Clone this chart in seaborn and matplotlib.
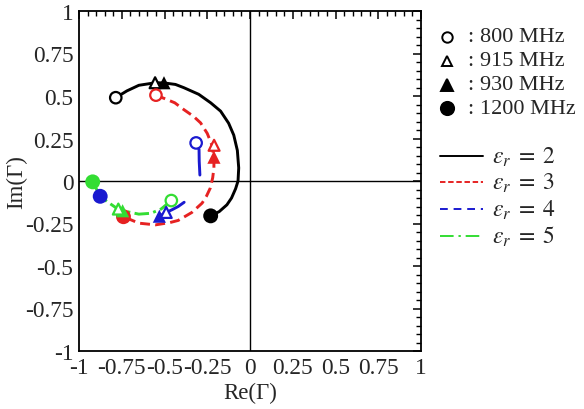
import numpy as np
import pandas as pd
import matplotlib
matplotlib.use("Agg")
import matplotlib.pyplot as plt
import seaborn as sns
from matplotlib.lines import Line2D
from matplotlib.ticker import MultipleLocator

# ---- reflection-coefficient trajectories (Re, Im) for each permittivity ----
er_levels = ["2", "3", "4", "5"]

black_re = [-0.785, -0.72, -0.65, -0.553, -0.504, -0.436, -0.387, -0.30, -0.23, -0.172,
            -0.125, -0.095, -0.074, -0.066, -0.070, -0.084, -0.108, -0.135, -0.18, -0.23]
black_im = [0.49, 0.53, 0.563, 0.578, 0.577, 0.568, 0.549, 0.51, 0.46, 0.411,
            0.34, 0.27, 0.18, 0.077, 0.0, -0.045, -0.10, -0.14, -0.18, -0.205]

red_re = [-0.55, -0.50, -0.44, -0.387, -0.33, -0.289, -0.25, -0.222, -0.211, -0.211,
          -0.218, -0.232, -0.255, -0.28, -0.34, -0.42, -0.47, -0.553, -0.65, -0.74]
red_im = [0.505, 0.485, 0.46, 0.42, 0.38, 0.342, 0.28, 0.21, 0.14, 0.077,
          0.02, -0.041, -0.09, -0.13, -0.185, -0.232, -0.245, -0.258, -0.248, -0.21]

blue_upper_re = [-0.315, -0.298, -0.297, -0.293]
blue_upper_im = [0.224, 0.185, 0.116, 0.035]
blue_lower_re = [-0.385, -0.42, -0.456, -0.49, -0.53]
blue_lower_im = [-0.125, -0.15, -0.169, -0.185, -0.207]

green_re = [-0.46, -0.52, -0.58, -0.65, -0.72, -0.75, -0.78, -0.83, -0.876, -0.92]
green_im = [-0.115, -0.165, -0.19, -0.195, -0.18, -0.17, -0.16, -0.125, -0.09, -0.005]

# ---- frequency markers, one value per permittivity (2, 3, 4, 5) ----
f800_re = [-0.785, -0.55, -0.315, -0.46]
f800_im = [0.49, 0.505, 0.224, -0.115]
f915_re = [-0.555, -0.21, -0.49, -0.77]
f915_im = [0.578, 0.21, -0.185, -0.165]
f930_re = [-0.503, -0.211, -0.53, -0.745]
f930_im = [0.578, 0.14, -0.207, -0.175]
f1200_re = [-0.23, -0.74, -0.876, -0.92]
f1200_im = [-0.205, -0.21, -0.09, -0.005]

freq_labels = ["800 MHz", "915 MHz", "930 MHz", "1200 MHz"]
tick_vals = [-1, -0.75, -0.5, -0.25, 0, 0.25, 0.5, 0.75, 1]
tick_labels = ["-1", "-0.75", "-0.5", "-0.25", "0", "0.25", "0.5", "0.75", "1"]

# ---- styling ----
palette = {"2": "#000000", "3": "#e62222", "4": "#1a1ad0", "5": "#33dd33"}
dash_map = {"2": "", "3": (3.4, 1.8), "4": "", "5": (5.0, 1.5, 1.0, 1.5)}

sns.set_theme(style="white")
plt.rcParams["font.family"] = ["Liberation Serif", "DejaVu Serif"]
plt.rcParams["mathtext.fontset"] = "stix"
plt.rcParams["axes.unicode_minus"] = False

W, H = 584, 410
fig = plt.figure(figsize=(W / 100, H / 100), dpi=100)
ax = fig.add_axes([79 / W, 1 - 352 / H, 342 / W, 340 / H])

# long-form table of the curves
rows = []
for er, seg, re, im in [("2", "2a", black_re, black_im),
                        ("3", "3a", red_re, red_im),
                        ("4", "4a", blue_upper_re, blue_upper_im),
                        ("4", "4b", blue_lower_re, blue_lower_im),
                        ("5", "5a", green_re, green_im)]:
    for i, (x, y) in enumerate(zip(re, im)):
        rows.append({"re": x, "im": y, "er": er, "seg": seg, "idx": i})
lines_df = pd.DataFrame(rows)

ax.axhline(0, color="black", lw=1.0, zorder=1)
ax.axvline(0, color="black", lw=1.0, zorder=1)

sns.lineplot(data=lines_df, x="re", y="im", hue="er", style="er", units="seg",
             estimator=None, sort=False, palette=palette, dashes=dash_map,
             hue_order=er_levels, style_order=er_levels,
             linewidth=2.1, legend=False, ax=ax, zorder=2)


def marker_frame(re, im):
    return pd.DataFrame({"re": re, "im": im, "er": er_levels})


def draw_markers(re, im, marker, size, hollow):
    sns.scatterplot(data=marker_frame(re, im), x="re", y="im", hue="er",
                    hue_order=er_levels, palette=palette, marker=marker, s=size,
                    legend=False, ax=ax, zorder=4 if hollow else 3, linewidth=0)
    coll = ax.collections[-1]
    if hollow:
        colors = coll.get_facecolors()
        coll.set_edgecolors(colors)
        coll.set_facecolors("white")
        coll.set_linewidths(1.6)


draw_markers(f1200_re, f1200_im, "o", 115, False)
draw_markers(f930_re, f930_im, "^", 90, False)
draw_markers(f915_re, f915_im, "^", 62, True)
draw_markers(f800_re, f800_im, "o", 68, True)

# ---- axes ----
ax.set_xlim(-1, 1)
ax.set_ylim(-1, 1)
ax.set_xticks(tick_vals, tick_labels)
ax.set_yticks(tick_vals, tick_labels)
ax.xaxis.set_minor_locator(MultipleLocator(0.05))
ax.yaxis.set_minor_locator(MultipleLocator(0.05))
ax.tick_params(which="both", direction="in", top=True, right=True,
               color="black", labelsize=16.8, pad=4)
ax.tick_params(which="major", length=6, width=1.1)
ax.tick_params(which="minor", length=3.5, width=1.0)
for sp in ax.spines.values():
    sp.set_color("black")
    sp.set_linewidth(1.3)
ax.grid(False)

ax.set_xlabel("Re(Γ)", fontsize=16.5)
ax.set_ylabel("Im(Γ)", fontsize=16.5)
ax.xaxis.set_label_coords(0.5, -0.09)
ax.yaxis.set_label_coords(-0.15, 0.5)


# ---- key on the right ----
def fx(px):
    return px / W


def fy(py):
    return 1 - py / H


freq_rows = [38, 62, 86, 109]
freq_markers = [("o", False, 7.5), ("^", False, 7.5), ("^", True, 8.0), ("o", True, 9.5)]
for yy, (m, filled, ms), lab in zip(freq_rows, freq_markers, freq_labels):
    fig.add_artist(Line2D([fx(447)], [fy(yy)], transform=fig.transFigure,
                          marker=m, ms=ms, mec="black", mew=1.4,
                          mfc="black" if filled else "white", ls="none"))
    fig.text(fx(470), fy(yy), ":", ha="center", va="center", fontsize=16)
    fig.text(fx(480), fy(yy), lab, ha="left", va="center", fontsize=16)

line_rows = [157, 183, 210, 237]
key_dashes = {"3": (0, (2.8, 1.4)), "4": (0, (4.0, 3.0)),
              "5": (0, (7.0, 2.5, 1.2, 2.5))}
for yy, er in zip(line_rows, er_levels):
    ls = "-" if er == "2" else key_dashes[er]
    fig.add_artist(Line2D([fx(440), fx(483)], [fy(yy), fy(yy)],
                          transform=fig.transFigure, color=palette[er],
                          lw=1.4, ls=ls))
    fig.text(fx(492), fy(yy), r"$\varepsilon_r\;=\;%s$" % er, ha="left",
             va="center", fontsize=17)

fig.savefig("out.png", dpi=100)
